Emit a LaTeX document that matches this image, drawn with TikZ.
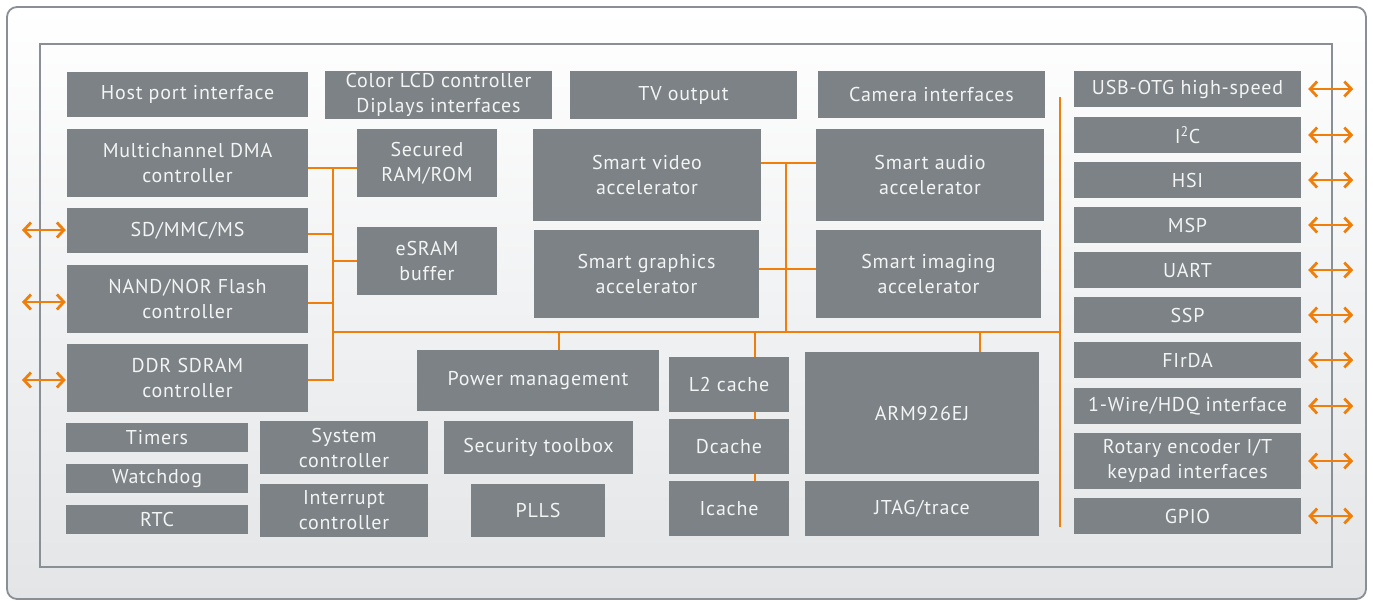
\documentclass[tikz,border=0pt]{standalone}
\usepackage{fontspec}
\setmainfont{PT Sans}[LetterSpace=4]
\usetikzlibrary{arrows.meta}

\definecolor{blockgray}{RGB}{124,130,133}
\definecolor{busorange}{RGB}{239,127,10}
\definecolor{framegray}{RGB}{137,143,148}
\definecolor{bglow}{RGB}{227,229,231}
\definecolor{labelwhite}{RGB}{243,244,244}

% block given by its corners (x1,y1) and (x2,y2), in pixel-like units
\newcommand\blk[6]{%
  \node[blk, minimum width={(#4)-(#2)}, minimum height={(#5)-(#3)}]
    (#1) at ({((#2)+(#4))/2},{((#3)+(#5))/2}) {#6};}

\begin{document}
\begin{tikzpicture}[x=1pt, y=-1pt,
  blk/.style={fill=blockgray, text=labelwhite, inner sep=0pt, align=center,
              font=\fontsize{20}{25}\selectfont},
  bus/.style={draw=busorange, line width=2pt},
  io/.style={draw=busorange, line width=2.8pt,
             {Straight Barb[length=7pt,width=15pt]}-{Straight Barb[length=7pt,width=15pt]}},
  frame/.style={draw=framegray, line width=1.8pt}]

\useasboundingbox (0,0) rectangle (1373,600);

% chip outline and die outline
\path[frame, rounded corners=10pt, top color=white, bottom color=bglow]
  (7,7) rectangle (1366,599);
\draw[frame] (40,44) rectangle (1332,567);

% top row
\blk{host}{67}{72}{308}{117}{Host port interface}
\blk{lcd}{325}{71}{552}{119}{Color LCD controller\\Diplays interfaces}
\blk{tv}{570}{71}{797}{119}{TV output}
\blk{cam}{818}{71}{1045}{118}{Camera interfaces}

% memory side
\blk{dma}{67}{129}{308}{197}{Multichannel DMA\\controller}
\blk{sd}{67}{208}{308}{253}{SD/MMC/MS}
\blk{nand}{67}{265}{308}{333}{NAND/NOR Flash\\controller}
\blk{ddr}{67}{344}{308}{412}{DDR SDRAM\\controller}
\blk{sec}{357}{129}{497}{197}{Secured\\RAM/ROM}
\blk{esram}{357}{227}{497}{295}{eSRAM\\buffer}

% accelerators
\blk{video}{533}{129}{761}{221}{Smart video\\accelerator}
\blk{graph}{534}{230}{759}{318}{Smart graphics\\accelerator}
\blk{audio}{816}{129}{1044}{221}{Smart audio\\accelerator}
\blk{imaging}{816}{230}{1041}{318}{Smart imaging\\accelerator}

% system blocks
\blk{timers}{66}{423}{248}{452}{Timers}
\blk{wdog}{66}{464}{248}{493}{Watchdog}
\blk{rtc}{66}{505}{248}{534}{RTC}
\blk{sysc}{260}{421}{428}{474}{System\\controller}
\blk{intc}{260}{484}{428}{537}{Interrupt\\controller}
\blk{pwr}{417}{350}{659}{411}{Power management}
\blk{secbox}{444}{421}{633}{474}{Security toolbox}
\blk{plls}{471}{484}{605}{537}{PLLS}

% processor core
\blk{l2}{669}{357}{789}{412}{L2 cache}
\blk{dc}{669}{419}{789}{474}{Dcache}
\blk{ic}{669}{481}{789}{536}{Icache}
\blk{arm}{805}{352}{1039}{474}{ARM926EJ}
\blk{jtag}{805}{481}{1039}{536}{JTAG/trace}

% peripherals
\blk{usb}{1074}{71}{1301}{107}{USB-OTG high-speed}
\blk{i2c}{1074}{117}{1301}{153}{I\textsuperscript{2}C}
\blk{hsi}{1074}{162}{1301}{198}{HSI}
\blk{msp}{1074}{207}{1301}{243}{MSP}
\blk{uart}{1074}{252}{1301}{288}{UART}
\blk{ssp}{1074}{297}{1301}{333}{SSP}
\blk{firda}{1074}{342}{1301}{378}{FIrDA}
\blk{wire}{1074}{388}{1301}{424}{1-Wire/HDQ interface}
\blk{rot}{1074}{433}{1301}{489}{Rotary encoder I/T\\keypad interfaces}
\blk{gpio}{1074}{498}{1301}{534}{GPIO}

% bus junction points
\coordinate (lbT) at (333,168);
\coordinate (lbB) at (333,380);
\coordinate (mbL) at (333,332);
\coordinate (mbR) at (1060,332);
\coordinate (rbT) at (1060,97);
\coordinate (rbB) at (1060,527);
\coordinate (mv)  at (786,163);
\coordinate (mg)  at (786,269);
\coordinate (pm)  at (559,332);
\coordinate (cx)  at (755,332);
\coordinate (ax)  at (980,332);

% memory bus
\draw[bus] (lbT) -- (lbB) -- (ddr.east |- lbB);
\draw[bus] (dma.east |- lbT) -- (sec.west |- lbT);
\draw[bus] ([yshift=-3pt]sd.east) -- ([yshift=-3pt]sd.east -| lbT);
\draw[bus] ([yshift=-4pt]nand.east) -- ([yshift=-4pt]nand.east -| lbT);
\draw[bus] (lbT |- esram.west) -- (esram.west);

% main system bus
\draw[bus] (mbL) -- (mbR);
\draw[bus] (rbT) -- (rbB);

% accelerator links
\draw[bus] (video.east |- mv) -- (audio.west |- mv);
\draw[bus] (graph.east |- mg) -- (imaging.west |- mg);
\draw[bus] (mv) -- (mv |- mbL);

% drops to the bus
\draw[bus] (pm) -- (pwr.north -| pm);
\draw[bus] (cx) -- (l2.north -| cx);
\draw[bus] (ax) -- (arm.north -| ax);
\draw[bus] (l2.south -| cx) -- (dc.north -| cx);
\draw[bus] (dc.south -| cx) -- (ic.north -| cx);

% external interfaces, left
\coordinate (pSD)   at (22,230);
\coordinate (pNAND) at (22,302);
\coordinate (pDDR)  at (22,380);
\draw[io] (pSD) -- ([xshift=-1pt]sd.west |- pSD);
\draw[io] (pNAND) -- ([xshift=-1pt]nand.west |- pNAND);
\draw[io] (pDDR) -- ([xshift=-1pt]ddr.west |- pDDR);

% external interfaces, right
\foreach \n in {usb,i2c,hsi,msp,uart,ssp,firda,wire,rot,gpio}
  \draw[io] ([xshift=7pt]\n.east) -- ([xshift=52pt]\n.east);

\end{tikzpicture}
\end{document}
